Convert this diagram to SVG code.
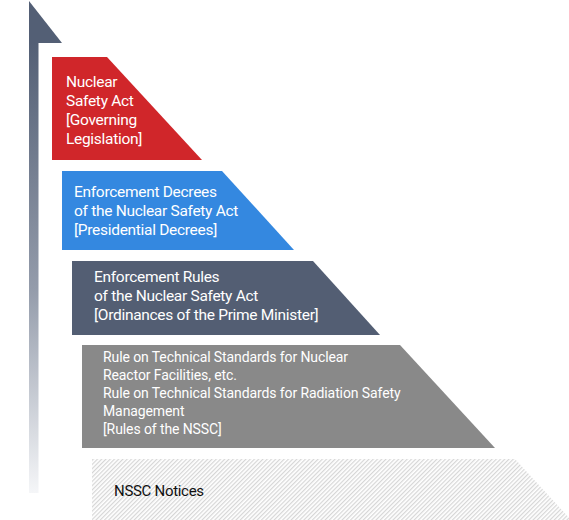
<svg xmlns="http://www.w3.org/2000/svg" width="569" height="520" viewBox="0 0 569 520">
<style>
text{font-family:Roboto,"Liberation Sans",sans-serif;font-size:15.5px;font-weight:400;letter-spacing:-0.3px;fill:#fff}
.s{font-size:14px;letter-spacing:-0.1px}
.k{fill:#111;font-size:15px}
</style>
<defs>
<linearGradient id="shaft" x1="0" y1="0" x2="0" y2="1">
<stop offset="0" stop-color="#535f75"/>
<stop offset="0.55" stop-color="#949cab"/>
<stop offset="1" stop-color="#f5f6f8"/>
</linearGradient>
<pattern id="hatch" width="3" height="3" patternUnits="userSpaceOnUse" patternTransform="rotate(45)">
<rect width="3" height="3" fill="#fff"/>
<rect width="1.2" height="3" fill="#d6d6d6"/>
</pattern>
</defs>
<g id="arrow">
<rect x="29" y="42" width="9.5" height="451" fill="url(#shaft)"/>
<polygon points="29,1 62,43 29,43" fill="#535f75"/>
</g>
<g id="node-act">
<polygon points="52,57 107,57 202,160 52,160" fill="#d0262a"/>
<text x="66" y="87">Nuclear</text>
<text x="66" y="106">Safety Act</text>
<text x="66" y="125">[Governing</text>
<text x="66" y="144">Legislation]</text>
</g>
<g id="node-decrees">
<polygon points="62,171 222,171 294,250 62,250" fill="#3488e0"/>
<text x="74" y="197">Enforcement Decrees</text>
<text x="74" y="216">of the Nuclear Safety Act</text>
<text x="74" y="235">[Presidential Decrees]</text>
</g>
<g id="node-rules">
<polygon points="72,261 313,261 380,335 72,335" fill="#535e73"/>
<text x="94" y="282">Enforcement Rules</text>
<text x="94" y="301">of the Nuclear Safety Act</text>
<text x="94" y="320">[Ordinances of the Prime Minister]</text>
</g>
<g id="node-nssc-rules">
<polygon points="82,345 400,345 495,448 82,448" fill="#898989"/>
<text class="s" x="103" y="362">Rule on Technical Standards for Nuclear</text>
<text class="s" x="103" y="380">Reactor Facilities, etc.</text>
<text class="s" x="103" y="398">Rule on Technical Standards for Radiation Safety</text>
<text class="s" x="103" y="416">Management</text>
<text class="s" x="103" y="434">[Rules of the NSSC]</text>
</g>
<g id="node-notices">
<polygon points="92,459 515,459 571,520 92,520" fill="url(#hatch)"/>
<text class="k" x="114" y="496">NSSC Notices</text>
</g>
<g id="connectors"></g>
</svg>
